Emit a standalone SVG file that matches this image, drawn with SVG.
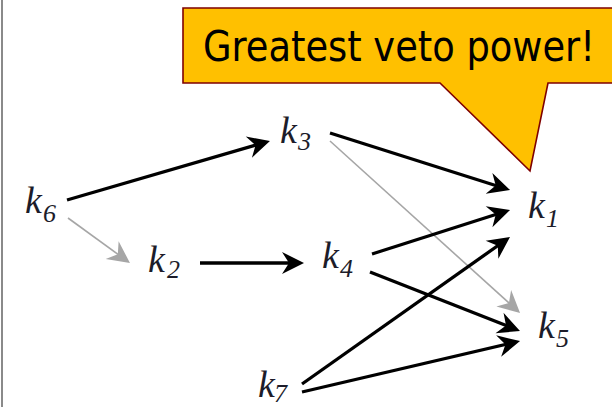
<svg xmlns="http://www.w3.org/2000/svg" width="612" height="407" viewBox="0 0 612 407">
<style>
.k{font-family:"Liberation Serif","DejaVu Serif",serif;font-style:italic;font-size:38px;fill:#1c1c2a}
.s{font-size:26px}
.e{fill:none;stroke:#000;stroke-width:3.3}
.g{fill:none;stroke:#a6a6a6;stroke-width:1.6}
.call{font-family:"DejaVu Sans Condensed","DejaVu Sans",sans-serif;font-size:42px;fill:#000}
</style>
<defs>
<marker id="ah" markerUnits="userSpaceOnUse" viewBox="-18 -12 26 24" refX="0" refY="0" markerWidth="26" markerHeight="24" orient="auto">
<path d="M6,0 L-16,-11 L-9,0 L-16,11 Z" fill="#000"/>
</marker>
<marker id="ahg" markerUnits="userSpaceOnUse" viewBox="-18 -12 26 24" refX="0" refY="0" markerWidth="26" markerHeight="24" orient="auto">
<path d="M6,0 L-16,-11 L-9,0 L-16,11 Z" fill="#a6a6a6"/>
</marker>
</defs>
<rect width="612" height="407" fill="#fff"/>
<rect x="1" y="0" width="2" height="407" fill="#8a8a8a"/>
<g id="callout">
<path d="M183,8 L620,8 L620,83 L548,83 L530,171 L440,83 L183,83 Z" fill="#ffc000" stroke="#7f0000" stroke-width="1.6"/>
<text class="call" x="203" y="61" textLength="392" lengthAdjust="spacingAndGlyphs">Greatest veto power!</text>
</g>
<g id="connectors">
<line class="e" x1="67" y1="200" x2="264.2" y2="142.7" marker-end="url(#ah)"/>
<line class="g" x1="68" y1="218" x2="125.1" y2="259.5" marker-end="url(#ahg)"/>
<line class="e" x1="200" y1="263" x2="298" y2="263" marker-end="url(#ah)"/>
<line class="e" x1="330" y1="133" x2="504.3" y2="188.2" marker-end="url(#ah)"/>
<line class="g" x1="330" y1="141" x2="515.6" y2="309" marker-end="url(#ahg)"/>
<line class="e" x1="372" y1="254" x2="504.3" y2="211.8" marker-end="url(#ah)"/>
<line class="e" x1="370" y1="272" x2="514.4" y2="328.8" marker-end="url(#ah)"/>
<line class="e" x1="302" y1="384" x2="505.1" y2="240.5" marker-end="url(#ah)"/>
<line class="e" x1="302" y1="392" x2="514.2" y2="342.4" marker-end="url(#ah)"/>
</g>
<g id="k6"><text class="k" x="25" y="213">k<tspan class="s" x="43" dy="9">6</tspan></text></g>
<g id="k2"><text class="k" x="148" y="272">k<tspan class="s" x="167" dy="6">2</tspan></text></g>
<g id="k3"><text class="k" x="280" y="143">k<tspan class="s" x="298" dy="7">3</tspan></text></g>
<g id="k4"><text class="k" x="322" y="268">k<tspan class="s" x="340" dy="9">4</tspan></text></g>
<g id="k1"><text class="k" x="528" y="218">k<tspan class="s" x="546" dy="9">1</tspan></text></g>
<g id="k5"><text class="k" x="538" y="338">k<tspan class="s" x="556" dy="9">5</tspan></text></g>
<g id="k7"><text class="k" x="258" y="397">k<tspan class="s" x="274" dy="5">7</tspan></text></g>
</svg>
